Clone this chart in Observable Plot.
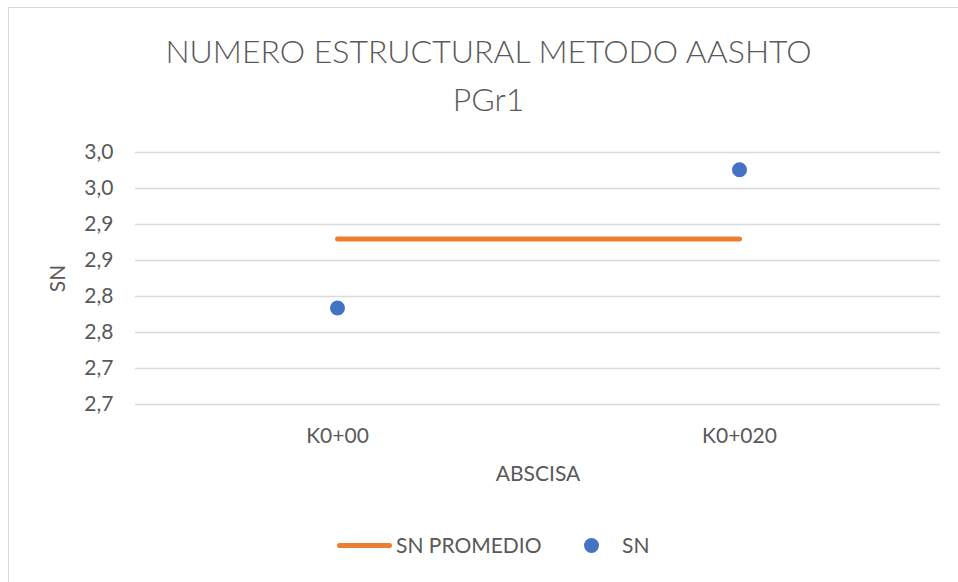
<!DOCTYPE html>
<html><head><meta charset="utf-8">
<script src="https://cdn.jsdelivr.net/npm/d3@7"></script>
<script src="https://cdn.jsdelivr.net/npm/@observablehq/plot@0.6"></script>
<style>
html,body{margin:0;padding:0;background:#fff;}
#wrap{position:relative;width:958px;height:582px;overflow:hidden;font-family:Lato,sans-serif;color:#595959;}
#frame{position:absolute;left:8px;top:7px;width:1000px;height:1000px;border:1.5px solid #d9d9d9;box-sizing:border-box;}
#title{position:absolute;left:0;top:27px;width:977px;text-align:center;font-size:32px;font-weight:300;line-height:48px;}
#chart{position:absolute;left:0;top:0;}
.lg{position:absolute;font-size:21px;line-height:22px;white-space:nowrap;}
</style></head>
<body>
<div id="wrap">
  <div id="frame"></div>
  <div id="chart"></div>
  <div id="title">NUMERO ESTRUCTURAL METODO AASHTO<br>PGr1</div>
  <div id="legend"></div>
</div>
<script>
const categories = ["K0+00", "K0+020"];
const snValues = [2.784, 2.976];
const snPromedio = [2.880, 2.880];
const yTicks = [2.65, 2.70, 2.75, 2.80, 2.85, 2.90, 2.95, 3.00];
const yTickLabels = ["2,7", "2,7", "2,8", "2,8", "2,9", "2,9", "3,0", "3,0"];
const seriesNames = ["SN PROMEDIO", "SN"];
const seriesColors = ["#ED7D31", "#4472C4"];

const points = categories.map((c, i) => ({x: c, y: snValues[i]}));
const avg = categories.map((c, i) => ({x: c, y: snPromedio[i]}));

const chart = Plot.plot({
  width: 958, height: 582,
  marginLeft: 135, marginRight: 18, marginTop: 152, marginBottom: 178,
  style: {fontFamily: "Lato, sans-serif", fontSize: "21px", color: "#595959", background: "transparent"},
  x: {type: "point", domain: categories, padding: 0.5, label: null},
  y: {domain: [2.65, 3.0], label: null},
  marks: [
    Plot.ruleY(yTicks, {stroke: "#d9d9d9", strokeWidth: 1.3}),
    Plot.axisY({ticks: yTicks, tickSize: 0, tickPadding: 22, fontSize: 21, label: null,
      tickFormat: d => yTickLabels[yTicks.findIndex(t => Math.abs(t - d) < 1e-9)]}),
    Plot.axisX({tickSize: 0, tickPadding: 24, fontSize: 21, label: null}),
    Plot.lineY(avg, {x: "x", y: "y", stroke: seriesColors[0], strokeWidth: 5, strokeLinecap: "round"}),
    Plot.dot(points, {x: "x", y: "y", r: 7.5, fill: seriesColors[1], stroke: "none"}),
    Plot.text(["SN"], {frameAnchor: "left", textAnchor: "middle", lineAnchor: "middle", dx: -77, rotate: -90, fontSize: 21, fill: "#595959"}),
    Plot.text(["ABSCISA"], {frameAnchor: "bottom", textAnchor: "middle", lineAnchor: "middle", dy: 70, fontSize: 21, fill: "#595959"})
  ]
});
document.getElementById("chart").appendChild(chart);

const lg = document.getElementById("legend");
lg.innerHTML =
  `<div style="position:absolute;left:337px;top:543px;width:55px;height:5px;border-radius:3px;background:${seriesColors[0]}"></div>` +
  `<div class="lg" style="left:396px;top:533.5px">${seriesNames[0]}</div>` +
  `<div style="position:absolute;left:584px;top:538px;width:15px;height:15px;border-radius:50%;background:${seriesColors[1]}"></div>` +
  `<div class="lg" style="left:622px;top:533.5px">${seriesNames[1]}</div>`;
</script>
</body></html>
